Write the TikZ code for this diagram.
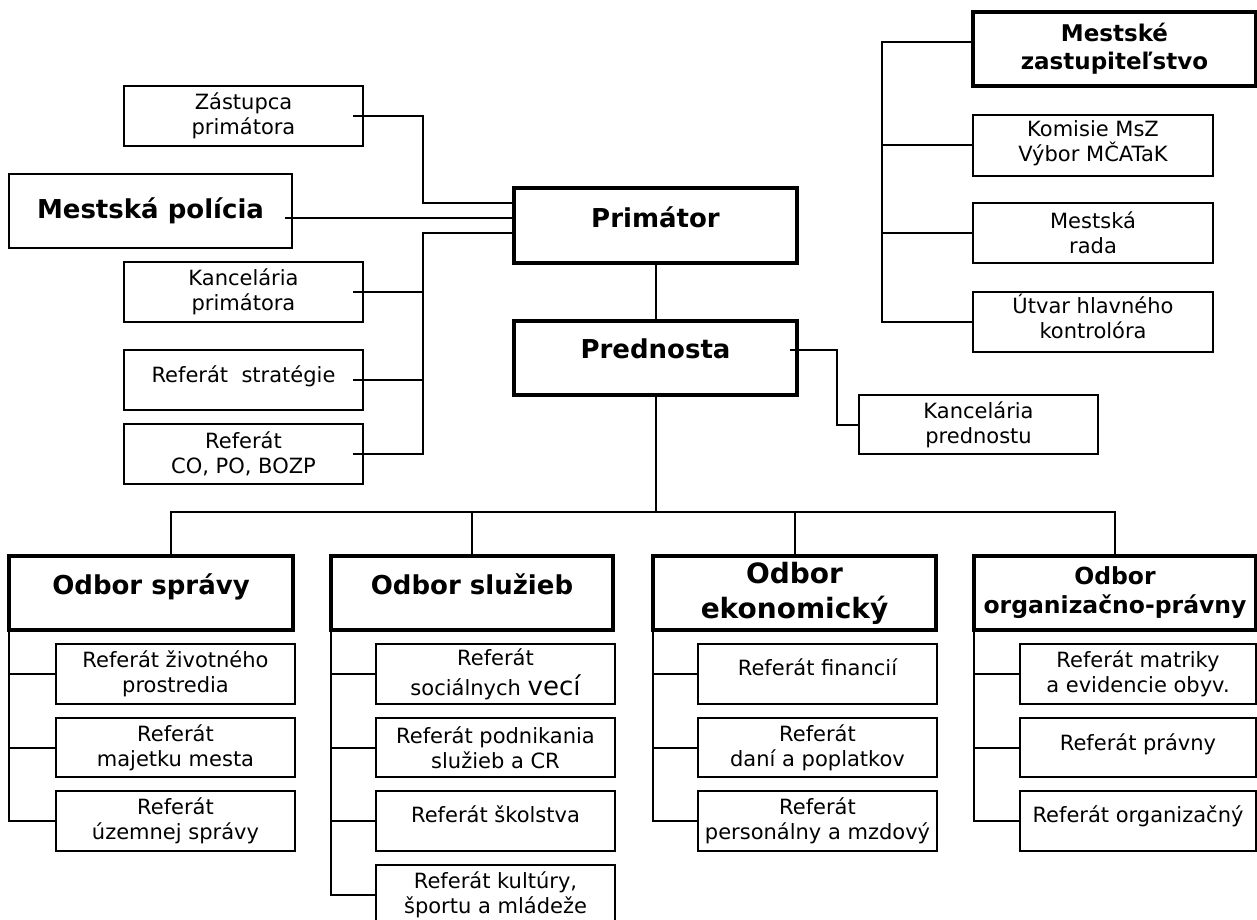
\documentclass[tikz,border=0pt]{standalone}
\usepackage{fontspec}
\setmainfont{DejaVu Sans}
\begin{document}
\begin{tikzpicture}[x=1pt, y=-1pt,
    box/.style={draw, line width=2pt, inner sep=0pt, outer sep=0pt, align=center,
      minimum width=239pt, minimum height=60pt, font=\fontsize{21}{25}\selectfont},
    head/.style={box, line width=4pt, minimum width=283pt, minimum height=74pt,
      font=\bfseries\fontsize{26}{31}\selectfont},
    lift/.style 2 args={text height=#1, text depth=#2},
    link/.style={line width=2pt}]
  \path[use as bounding box, fill=white] (0,0) rectangle (1257,920);
  \node[box] (zast) at (243.5,116) {Zástupca\\primátora};
  \node[head, line width=2pt] (mpol) at (150.5,211) {Mestská polícia};
  \node[box] (kanp) at (243.5,292) {Kancelária\\primátora};
  \node[box, lift={17pt}{13pt}] (rstr) at (243.5,380) {Referát~ stratégie};
  \node[box] (rco) at (243.5,454) {Referát\\CO, PO, BOZP};
  \node[head, minimum height=75pt, lift={16.5pt}{13.5pt}] (prim) at (655.5,225.5) {Primátor};
  \node[head, lift={15pt}{15pt}] (pred) at (655.5,358) {Prednosta};
  \node[box, minimum height=59pt] (kpred) at (978.5,424.5) {Kancelária\\prednostu};
  \node[head, font=\bfseries\fontsize{23}{28}\selectfont] (msz) at (1114.5,49) {Mestské\\zastupiteľstvo};
  \node[box, minimum width=240pt, minimum height=61pt] (kom) at (1093,145.5) {Komisie MsZ\\Výbor MČATaK\rule[-8pt]{0pt}{0pt}};
  \node[box, minimum width=240pt] (rada) at (1093,233) {Mestská\\rada};
  \node[box, minimum width=240pt] (utv) at (1093,322) {Útvar hlavného\\kontrolóra\rule[-12pt]{0pt}{0pt}};
  \node[head, minimum width=284pt, lift={16pt}{14pt}] (osp) at (151,593) {Odbor správy};
  \node[head, minimum width=282pt, lift={16pt}{14pt}] (osl) at (472,593) {Odbor služieb};
  \node[head, font=\bfseries\fontsize{28}{35}\selectfont] (oek) at (794.5,593) {Odbor\\ekonomický};
  \node[head, minimum width=282pt, font=\bfseries\fontsize{23.5}{29}\selectfont] (oorg) at (1115,593) {Odbor\\organizačno-právny};
  \node[box] (sp1) at (175.5,674) {Referát životného\\prostredia};
  \node[box, minimum height=59pt] (sp2) at (175.5,747.5) {Referát\\majetku mesta};
  \node[box] (sp3) at (175.5,821) {Referát\\územnej správy};
  \node[box] (sl1) at (495.5,674) {Referát\\[5pt]sociálnych {\fontsize{26}{31}\selectfont vecí}};
  \node[box, minimum height=59pt] (sl2) at (495.5,747.5) {Referát podnikania\\služieb a CR};
  \node[box, lift={16pt}{14pt}] (sl3) at (495.5,821) {Referát školstva};
  \node[box] (sl4) at (495.5,895) {Referát kultúry,\\športu a mládeže};
  \node[box, lift={16pt}{14pt}] (ek1) at (817.5,674) {Referát financií};
  \node[box, minimum height=59pt] (ek2) at (817.5,747.5) {Referát\\daní a poplatkov};
  \node[box] (ek3) at (817.5,821) {Referát\\personálny a mzdový};
  \node[box, minimum width=236pt] (og1) at (1138,674) {Referát matriky\\a evidencie obyv.};
  \node[box, minimum width=236pt, minimum height=59pt, lift={17.5pt}{12.5pt}] (og2) at (1138,747.5) {Referát právny};
  \node[box, minimum width=236pt, lift={16pt}{14pt}] (og3) at (1138,821) {Referát organizačný};

  \coordinate (pbus) at (423,0);
  \coordinate (pt) at ([yshift=22.5pt]prim.west);
  \coordinate (pm) at ([yshift=7.5pt]prim.west);
  \coordinate (pb) at ([yshift=-7.5pt]prim.west);
  \draw[link] ([xshift=-10pt]zast.east) -| (pbus |- pt) -- (pt);
  \draw[link] ([xshift=-7pt]mpol.east |- pm) -- (pm);
  \draw[link] (pb) -| (pbus |- rco.east) -- ([xshift=-10pt]rco.east);
  \draw[link] ([xshift=-10pt]kanp.east) -- (pbus |- kanp.east);
  \draw[link] ([xshift=-10pt]rstr.east) -- (pbus |- rstr.east);
  \draw[link] (prim) -- (pred);
  \draw[link] ([xshift=-7pt,yshift=8pt]pred.east) -| ([xshift=-22pt]kpred.west) -- (kpred.west);

  \coordinate (zbus) at (882,0);
  \draw[link] ([yshift=7pt]msz.west) -| (zbus |- utv.west) -- (utv.west);
  \draw[link] (zbus |- kom.west) -- (kom.west);
  \draw[link] (zbus |- rada.west) -- (rada.west);

  \coordinate (obus) at (0,512);
  \draw[link] (pred) -- (pred.south |- obus);
  \draw[link] ([xshift=20pt]osp.north) |- (oorg.north |- obus) -- (oorg.north);
  \draw[link] (osl) -- (osl.north |- obus);
  \draw[link] (oek) -- (oek.north |- obus);

  \draw[link] (osp.south west) |- (sp3);
  \foreach \s in {sp1,sp2} \draw[link] (osp.south west |- \s) -- (\s);
  \draw[link] (osl.south west) |- (sl4);
  \foreach \s in {sl1,sl2,sl3} \draw[link] (osl.south west |- \s) -- (\s);
  \draw[link] (oek.south west) |- (ek3);
  \foreach \s in {ek1,ek2} \draw[link] (oek.south west |- \s) -- (\s);
  \draw[link] (oorg.south west) |- (og3);
  \foreach \s in {og1,og2} \draw[link] (oorg.south west |- \s) -- (\s);
\end{tikzpicture}
\end{document}
